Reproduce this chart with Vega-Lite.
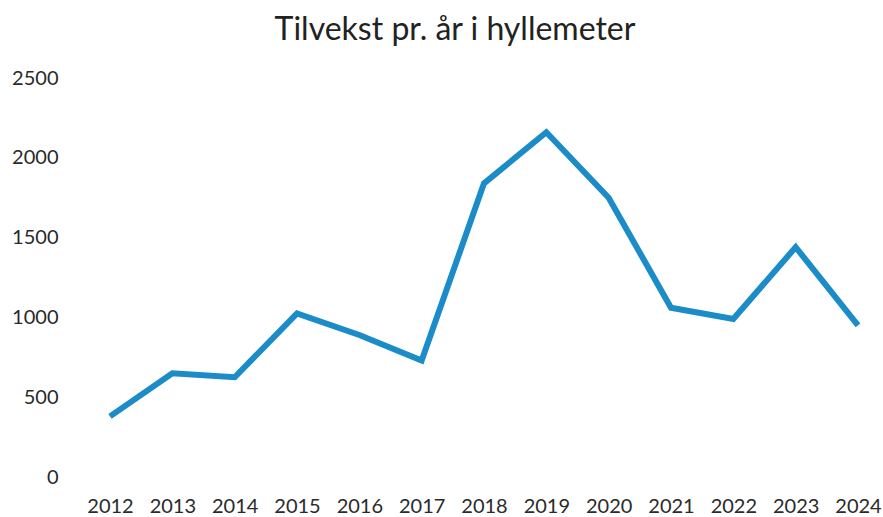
{
  "$schema": "https://vega.github.io/schema/vega-lite/v6.json",
  "width": 748,
  "height": 399,
  "autosize": {"type": "none"},
  "padding": {"left": 110, "top": 78, "right": 25, "bottom": 40},
  "background": "white",
  "title": {
    "text": "Tilvekst pr. år i hyllemeter",
    "font": "Lato",
    "fontSize": 32,
    "fontWeight": "normal",
    "color": "#222222",
    "anchor": "middle",
    "dx": -29,
    "offset": 21
  },
  "data": {
    "values": [
      {"year": "2012", "value": 380},
      {"year": "2013", "value": 650},
      {"year": "2014", "value": 625},
      {"year": "2015", "value": 1025},
      {"year": "2016", "value": 890},
      {"year": "2017", "value": 730},
      {"year": "2018", "value": 1840},
      {"year": "2019", "value": 2160},
      {"year": "2020", "value": 1750},
      {"year": "2021", "value": 1060},
      {"year": "2022", "value": 990},
      {"year": "2023", "value": 1440},
      {"year": "2024", "value": 950}
    ]
  },
  "mark": {"type": "line", "color": "#1b8cc8", "strokeWidth": 6, "strokeJoin": "miter", "strokeCap": "butt"},
  "encoding": {
    "x": {
      "field": "year",
      "type": "ordinal",
      "scale": {"type": "point", "padding": 0},
      "axis": {
        "title": null,
        "labelAngle": 0,
        "domain": false,
        "ticks": false,
        "labelPadding": 19,
        "labelFont": "Lato",
        "labelFontSize": 20,
        "labelColor": "#2a2a2a"
      }
    },
    "y": {
      "field": "value",
      "type": "quantitative",
      "scale": {"domain": [0, 2500], "nice": false},
      "axis": {
        "title": null,
        "values": [0, 500, 1000, 1500, 2000, 2500],
        "format": "d",
        "grid": false,
        "domain": false,
        "ticks": false,
        "labelPadding": 52,
        "labelFont": "Lato",
        "labelFontSize": 20,
        "labelColor": "#2a2a2a"
      }
    }
  },
  "config": {"view": {"stroke": null}}
}
